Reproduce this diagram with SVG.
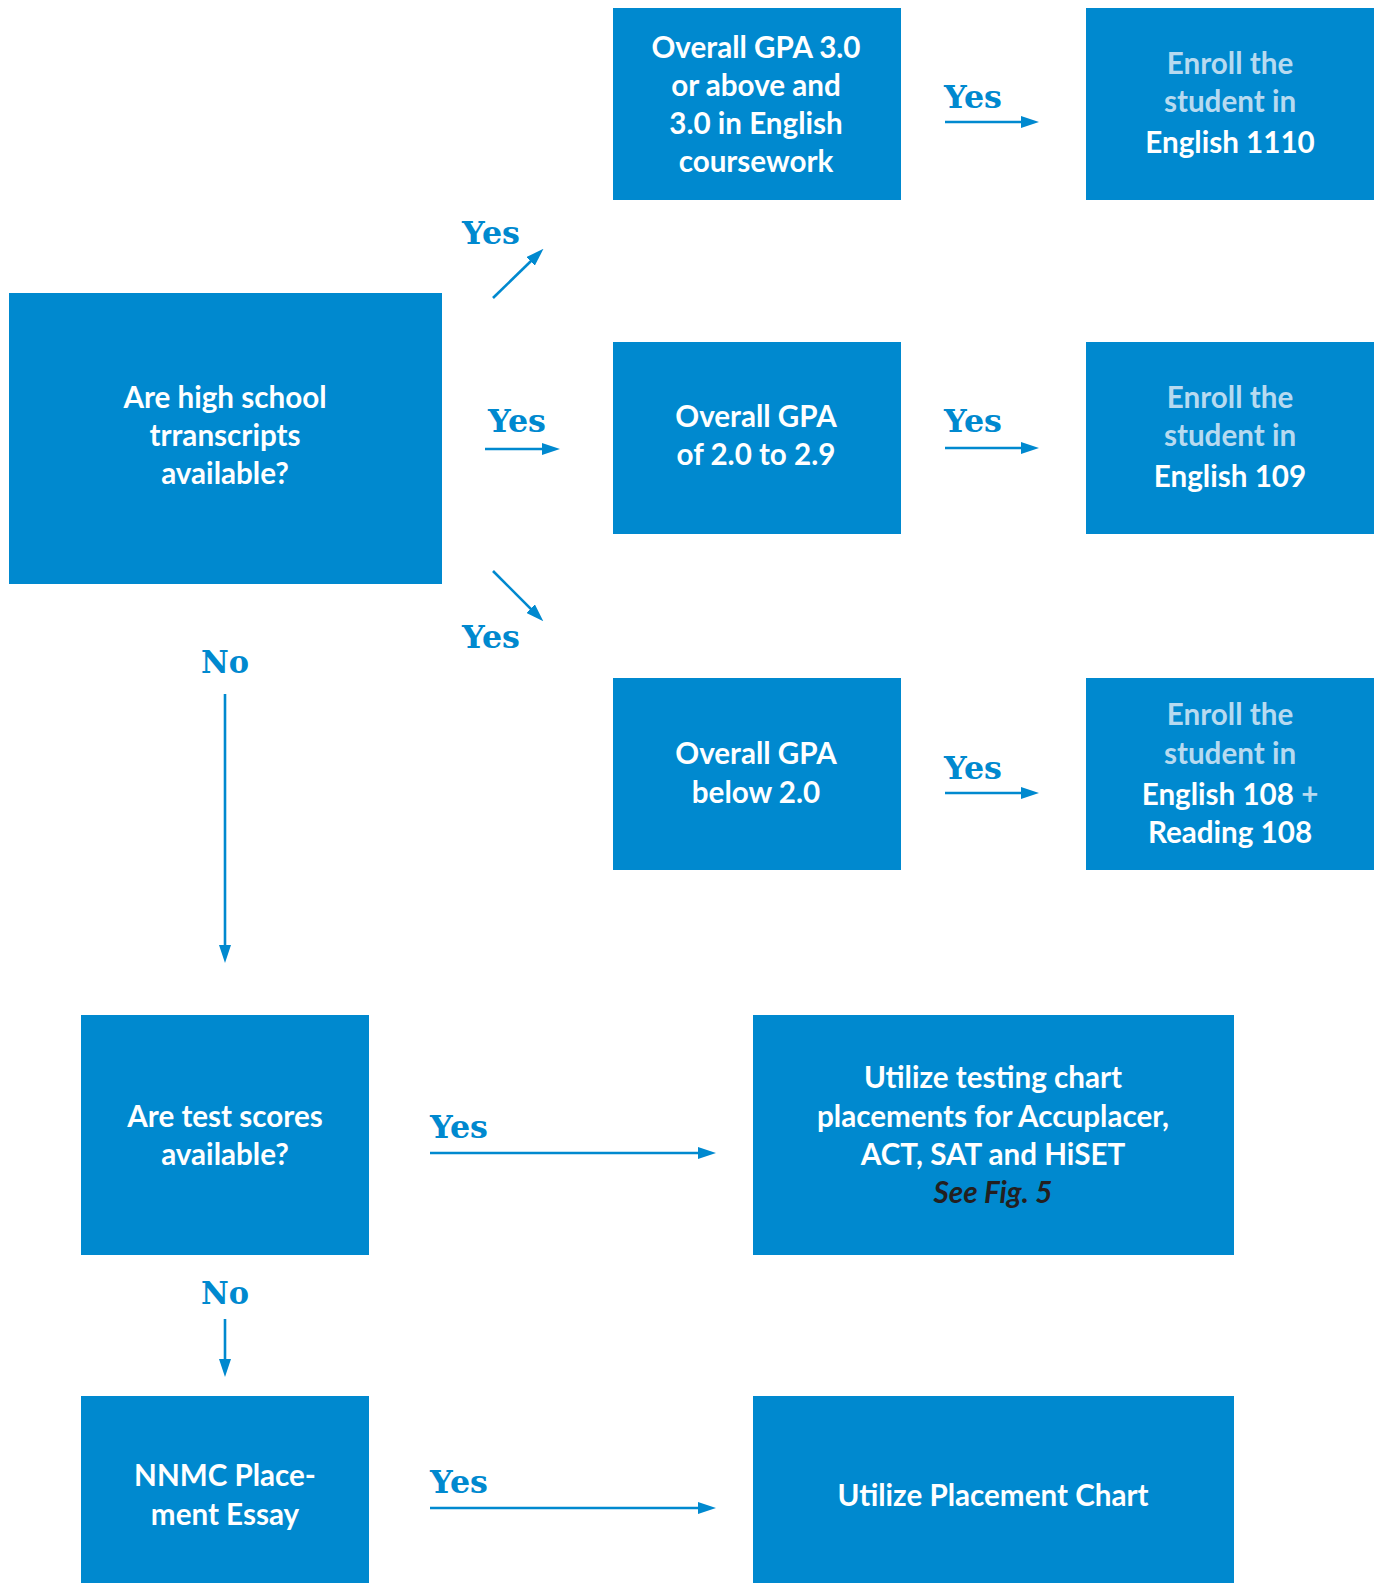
<svg xmlns="http://www.w3.org/2000/svg" width="1376" height="1583" viewBox="0 0 1376 1583">
<style>
.box{fill:#0089CF}
.t{font-family:Lato,"Open Sans","Liberation Sans",sans-serif;font-weight:700;font-size:29.6px;fill:#FFFFFF;text-anchor:middle}
.lt{fill:#B7DAF0}
.fig{fill:#231F20;font-style:italic}
.lbl{font-family:"DejaVu Serif","Liberation Serif",serif;font-weight:700;font-size:31px;fill:#0089CF}
.ar{stroke:#0089CF;stroke-width:2.6;fill:none;marker-end:url(#ah)}
</style>
<defs>
<marker id="ah" viewBox="0 0 18 12" refX="1" refY="6" markerWidth="18" markerHeight="12" markerUnits="userSpaceOnUse" orient="auto">
<path d="M0,0 L18,6 L0,12 z" fill="#0089CF"/>
</marker>
</defs>
<rect width="1376" height="1583" fill="#FFFFFF"/>
<g id="nodes">
<g id="n-transcripts">
<rect class="box" x="9" y="293" width="433" height="291"/>
<text class="t" x="225" y="408">Are high school</text>
<text class="t" x="225" y="446">trranscripts</text>
<text class="t" x="225" y="484">available?</text>
</g>
<g id="n-gpa30">
<rect class="box" x="613" y="8" width="288" height="192"/>
<text class="t" x="756" y="58">Overall GPA 3.0</text>
<text class="t" x="756" y="96">or above and</text>
<text class="t" x="756" y="134">3.0 in English</text>
<text class="t" x="756" y="172">coursework</text>
</g>
<g id="n-e1110">
<rect class="box" x="1086" y="8" width="288" height="192"/>
<text class="t lt" x="1230" y="74">Enroll the</text>
<text class="t lt" x="1230" y="112">student in</text>
<text class="t" x="1230" y="153">English 1110</text>
</g>
<g id="n-gpa20">
<rect class="box" x="613" y="342" width="288" height="192"/>
<text class="t" x="756" y="427">Overall GPA</text>
<text class="t" x="756" y="465">of 2.0 to 2.9</text>
</g>
<g id="n-e109">
<rect class="box" x="1086" y="342" width="288" height="192"/>
<text class="t lt" x="1230" y="408">Enroll the</text>
<text class="t lt" x="1230" y="446">student in</text>
<text class="t" x="1230" y="487">English 109</text>
</g>
<g id="n-gpalow">
<rect class="box" x="613" y="678" width="288" height="192"/>
<text class="t" x="756" y="764">Overall GPA</text>
<text class="t" x="756" y="803">below 2.0</text>
</g>
<g id="n-e108">
<rect class="box" x="1086" y="678" width="288" height="192"/>
<text class="t lt" x="1230" y="725">Enroll the</text>
<text class="t lt" x="1230" y="764">student in</text>
<text class="t" x="1230" y="805">English 108 <tspan class="lt">+</tspan></text>
<text class="t" x="1230" y="843">Reading 108</text>
</g>
<g id="n-tests">
<rect class="box" x="81" y="1015" width="288" height="240"/>
<text class="t" x="225" y="1127">Are test scores</text>
<text class="t" x="225" y="1165">available?</text>
</g>
<g id="n-testchart">
<rect class="box" x="753" y="1015" width="481" height="240"/>
<text class="t" x="993" y="1088">Utilize testing chart</text>
<text class="t" x="993" y="1127">placements for Accuplacer,</text>
<text class="t" x="993" y="1165">ACT, SAT and HiSET</text>
<text class="t fig" x="993" y="1203">See Fig. 5</text>
</g>
<g id="n-essay">
<rect class="box" x="81" y="1396" width="288" height="187"/>
<text class="t" x="225" y="1486">NNMC Place-</text>
<text class="t" x="225" y="1525">ment Essay</text>
</g>
<g id="n-placement">
<rect class="box" x="753" y="1396" width="481" height="187"/>
<text class="t" x="993" y="1506">Utilize Placement Chart</text>
</g>
</g>
<g id="connectors">
<line class="ar" x1="493" y1="298" x2="531.3" y2="260.7"/>
<line class="ar" x1="485" y1="449" x2="543" y2="449"/>
<line class="ar" x1="493" y1="571" x2="531.3" y2="609.3"/>
<line class="ar" x1="945" y1="122" x2="1022" y2="122"/>
<line class="ar" x1="945" y1="448" x2="1022" y2="448"/>
<line class="ar" x1="945" y1="793" x2="1022" y2="793"/>
<line class="ar" x1="225" y1="694" x2="225" y2="946"/>
<line class="ar" x1="225" y1="1319" x2="225" y2="1360"/>
<line class="ar" x1="430" y1="1153" x2="699" y2="1153"/>
<line class="ar" x1="430" y1="1508" x2="699" y2="1508"/>
</g>
<g id="labels">
<text class="lbl" x="462" y="244" textLength="58" lengthAdjust="spacingAndGlyphs">Yes</text>
<text class="lbl" x="488" y="432" textLength="58" lengthAdjust="spacingAndGlyphs">Yes</text>
<text class="lbl" x="462" y="648" textLength="58" lengthAdjust="spacingAndGlyphs">Yes</text>
<text class="lbl" x="944" y="108" textLength="58" lengthAdjust="spacingAndGlyphs">Yes</text>
<text class="lbl" x="944" y="432" textLength="58" lengthAdjust="spacingAndGlyphs">Yes</text>
<text class="lbl" x="944" y="779" textLength="58" lengthAdjust="spacingAndGlyphs">Yes</text>
<text class="lbl" x="201" y="673" textLength="48" lengthAdjust="spacingAndGlyphs">No</text>
<text class="lbl" x="201" y="1304" textLength="48" lengthAdjust="spacingAndGlyphs">No</text>
<text class="lbl" x="430" y="1138" textLength="58" lengthAdjust="spacingAndGlyphs">Yes</text>
<text class="lbl" x="430" y="1493" textLength="58" lengthAdjust="spacingAndGlyphs">Yes</text>
</g>
</svg>
